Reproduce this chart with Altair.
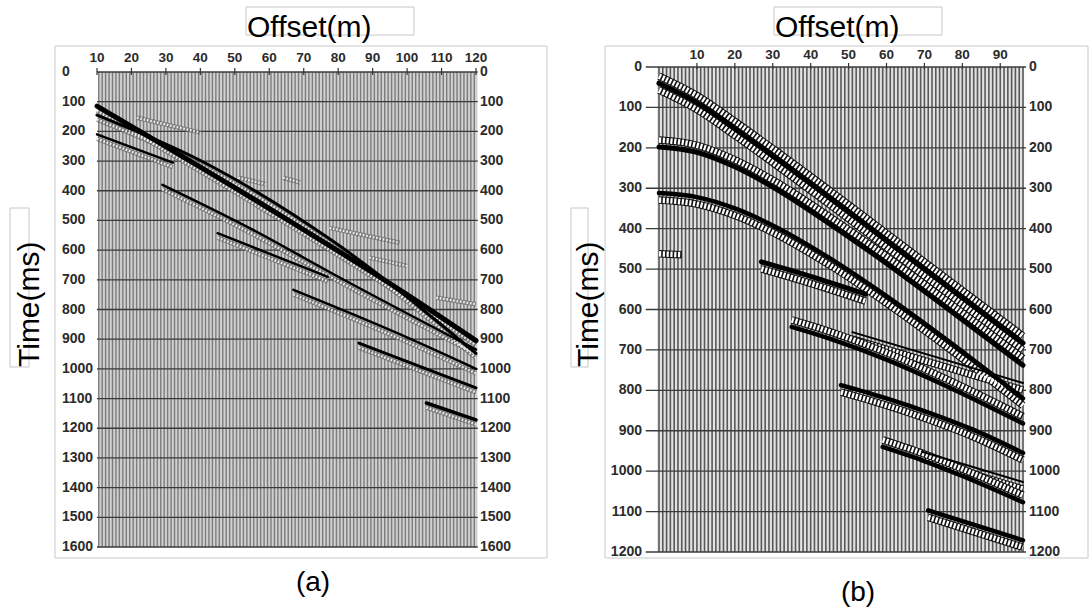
import altair as alt
import numpy as np
import pandas as pd

FONT = "Liberation Sans"

# ---------------- panel (a) ----------------
A_OFFSET_TICKS = [10, 20, 30, 40, 50, 60, 70, 80, 90, 100, 110, 120]
A_TIME_TICKS = [0, 100, 200, 300, 400, 500, 600, 700, 800, 900, 1000,
                1100, 1200, 1300, 1400, 1500, 1600]
A_TRACES = np.arange(10.5, 120.5, 1.0)

# event name, offsets (m), times (ms), black stroke width, halo side
A_EVENTS = [
    ("a1", [10, 60, 100, 120], [115, 460, 750, 905], 5.0, "below"),
    ("a2", [10, 40, 78, 120], [145, 298, 566, 948], 3.0, "below"),
    ("a3", [10, 32], [210, 305], 2.5, "below"),
    ("a4", [29, 55, 78, 120], [380, 530, 677, 935], 2.5, "below"),
    ("a5", [45, 77], [543, 690], 2.5, "below"),
    ("a6", [67, 97, 120], [734, 879, 1000], 2.5, "below"),
    ("a7", [86, 120], [913, 1064], 3.0, "below"),
    ("a8", [105.6, 120], [1115, 1172], 3.5, "below"),
    ("a9", [21.6, 40], [139, 189], 0.0, "only"),
    ("a10", [77.5, 97.8], [510, 560], 0.0, "only"),
    ("a11", [89, 100], [610, 638], 0.0, "only"),
    ("a12", [108.5, 120], [745, 767], 0.0, "only"),
    ("a13", [51, 59], [341, 363], 0.0, "only"),
    ("a14", [64, 69], [341, 357], 0.0, "only"),
]

# ---------------- panel (b) ----------------
B_OFFSET_TICKS = [10, 20, 30, 40, 50, 60, 70, 80, 90]
B_TIME_TICKS = [0, 100, 200, 300, 400, 500, 600, 700, 800, 900, 1000, 1100, 1200]
B_TRACES = np.arange(0.0, 97.0, 1.0)

B_EVENTS = [
    ("b1", [0, 10, 20, 31, 45, 60, 75, 96], [40, 88, 152, 226, 323, 429, 535, 683], 5.0, "both"),
    ("b2", [0, 10, 20, 30, 45, 60, 75, 96], [198, 211, 247, 297, 388, 486, 590, 738], 5.0, "above"),
    ("b3", [0, 10, 20, 30, 45, 60, 75, 96], [312, 322, 350, 392, 473, 567, 669, 820], 4.5, "below"),
    ("b4", [35, 45, 60, 75, 96], [643, 672, 724, 786, 882], 4.5, "above"),
    ("b5", [27, 40, 54.5], [482, 518, 562], 5.0, "below"),
    ("b6", [48, 60, 72, 83, 96], [787, 820, 858, 898, 955], 4.5, "below"),
    ("b7", [59, 70, 80, 96], [940, 975, 1012, 1077], 4.5, "above"),
    ("b8", [71, 96], [1097, 1171], 4.5, "below"),
    ("b9", [69.4, 96], [952, 1027], 2.0, "below"),
    ("b10", [51, 96], [656, 782], 2.0, "below"),
    ("b11", [0, 6], [445, 447], 0.0, "only"),
]


def event_frame(events):
    rows = []
    for name, offs, times, w, halo in events:
        for i, (o, t) in enumerate(zip(offs, times)):
            rows.append({"name": name, "i": i, "off": o, "t": t, "w": w, "halo": halo})
    return pd.DataFrame(rows)


def panel(traces, x_ticks, t_ticks, events, xs, ys, box, grid_span, st):
    X = lambda f: alt.X(f, type="quantitative", scale=xs, axis=None)
    Y = lambda f: alt.Y(f, type="quantitative", scale=ys, axis=None)

    bg = alt.Chart(pd.DataFrame([box])).mark_rect(fill=st["bg"]).encode(
        x=X("x0"), x2=alt.X2("x1"), y=Y("t0"), y2=alt.Y2("t1"))

    tr = alt.Chart(pd.DataFrame({"off": traces, "t0": box["t0"], "t1": box["t1"]})).mark_rule(
        color=st["trace"], strokeWidth=st["trace_w"]).encode(
        x=X("off"), y=Y("t0"), y2=alt.Y2("t1"))

    grid = alt.Chart(pd.DataFrame({"t": t_ticks, "xl": grid_span[0], "xr": grid_span[1]})).mark_rule(
        color="#3a3a3a", strokeWidth=1.3).encode(
        y=Y("t"), x=X("xl"), x2=alt.X2("xr"))

    ev = alt.Chart(event_frame(events))
    enc = dict(x=X("off"), y=Y("t"), detail="name:N", order="i:Q")

    below = "datum.halo == 'below' || datum.halo == 'both' || datum.halo == 'only'"
    above = "datum.halo == 'above' || datum.halo == 'both'"
    halos = []
    for cond, dy in ((below, st["dy"]), (above, -st["dy"])):
        halos.append(ev.transform_filter(cond).mark_line(
            yOffset=dy, interpolate="monotone", color=st["halo_dark"],
            strokeWidth=st["halo_w"] + 2, opacity=st["halo_op"]).encode(**enc))
        halos.append(ev.transform_filter(cond).mark_line(
            yOffset=dy, interpolate="monotone", color=st["halo_light"], strokeWidth=st["halo_w"],
            strokeDash=st["dash"]).encode(**enc))

    lines = ev.transform_filter("datum.w > 0").mark_line(
        color="#000000", strokeCap="round", interpolate="monotone").encode(
        strokeWidth=alt.StrokeWidth("w:Q", scale=None, legend=None), **enc)

    tdf = pd.DataFrame({"x": x_ticks, "lab": [str(v) for v in x_ticks]})
    ticks = alt.Chart(tdf).mark_rule(color="#333333", strokeWidth=1.2).encode(
        x=X("x"), y=alt.value(st["tick_y"][0]), y2=alt.value(st["tick_y"][1]))
    top = alt.Chart(tdf).mark_text(font=FONT, fontSize=13.5, fontWeight="bold", color="#2b2b2b",
                                   baseline="alphabetic").encode(
        x=X("x"), y=alt.value(st["top_y"]), text="lab:N")

    ldf = pd.DataFrame({"t": t_ticks, "lab": [str(v) for v in t_ticks]})
    left = alt.Chart(ldf).mark_text(font=FONT, fontSize=14, fontWeight="bold", color="#2b2b2b",
                                    align=st["left_align"], baseline="middle").encode(
        y=Y("t"), x=alt.value(st["left_x"]), text="lab:N")
    right = alt.Chart(ldf).mark_text(font=FONT, fontSize=14, fontWeight="bold", color="#2b2b2b",
                                     align="left", baseline="middle").encode(
        y=Y("t"), x=alt.value(st["right_x"]), text="lab:N")

    return alt.layer(bg, tr, grid, *halos, lines, ticks, top, left, right)


style_a = dict(bg="#d0d0d0", trace="#7c7c7c", trace_w=1.4, dy=4.5, halo_w=2.5, halo_dark="#666666",
               halo_light="#eeeeee", halo_op=0.7, dash=[1.6, 1.8], tick_y=(68, 75), top_y=62,
               left_x=62, left_align="left", right_x=480)
style_b = dict(bg="#e2e2e2", trace="#585858", trace_w=1.6, dy=7, halo_w=5.5, halo_dark="#111111",
               halo_light="#ffffff", halo_op=1.0, dash=[2.2, 1.6], tick_y=(63, 69), top_y=59,
               left_x=642, left_align="right", right_x=1029)

panel_a = panel(
    A_TRACES, A_OFFSET_TICKS, A_TIME_TICKS, A_EVENTS,
    alt.Scale(domain=[10, 120], range=[97, 476], nice=False, zero=False),
    alt.Scale(domain=[0, 1600], range=[72, 547], nice=False, zero=False),
    {"x0": 10.4, "x1": 120.4, "t0": 0, "t1": 1600}, (10, 120.5), style_a)

panel_b = panel(
    B_TRACES, B_OFFSET_TICKS, B_TIME_TICKS, B_EVENTS,
    alt.Scale(domain=[0, 96], range=[659, 1023], nice=False, zero=False),
    alt.Scale(domain=[0, 1200], range=[67, 552], nice=False, zero=False),
    {"x0": -0.5, "x1": 96.3, "t0": 0, "t1": 1200}, (-3.5, 96.8), style_b)


def box(x0, x1, y0, y1, color="#c8c8c8", fill="transparent"):
    return alt.Chart(pd.DataFrame({"k": [0]})).mark_rect(fill=fill, stroke=color, strokeWidth=1).encode(
        x=alt.value(x0), x2=alt.value(x1), y=alt.value(y0), y2=alt.value(y1))


def label(txt, x, y, size=30, angle=0, align="left"):
    return alt.Chart(pd.DataFrame({"s": [txt]})).mark_text(
        font=FONT, fontSize=size, angle=angle, align=align, baseline="alphabetic", color="#000000").encode(
        x=alt.value(x), y=alt.value(y), text="s:N")


decor = alt.layer(
    box(55, 547, 46, 558), box(605, 1088, 46, 558),
    box(246, 414, 7, 35, fill="#ffffff"), box(774, 942, 7, 35, fill="#ffffff"),
    box(10, 29, 208, 367, fill="#ffffff"), box(571, 588, 208, 367, fill="#ffffff"),
    label("Offset(m)", 247, 37), label("Offset(m)", 775, 37),
    label("Time(ms)", 39, 367, angle=270), label("Time(ms)", 598, 367, angle=270),
    label("(a)", 313, 591, size=28, align="center"), label("(b)", 858, 601, size=28, align="center"),
)

chart = alt.layer(decor, panel_a, panel_b).resolve_scale(
    x="independent", y="independent"
).properties(
    width=1090, height=607, padding=0, autosize=alt.AutoSizeParams(type="none"), background="#ffffff"
).configure_view(stroke=None)

chart.save("out.html", embed_options={"renderer": "svg", "actions": False})
